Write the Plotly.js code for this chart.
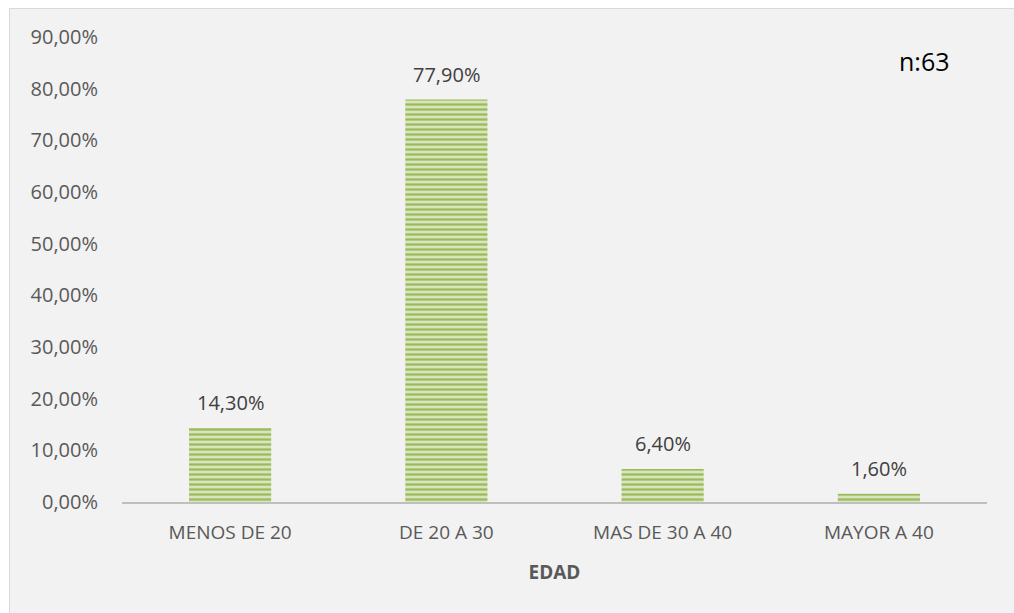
<!DOCTYPE html>
<html>
<head>
<meta charset="utf-8">
<script src="https://cdn.plot.ly/plotly-3.0.1.min.js"></script>
<style>
html,body{margin:0;padding:0;background:#ffffff;overflow:hidden;}
#frame{position:absolute;left:9px;top:8px;width:1004px;height:604px;border-left:1px solid #d9d9d9;border-top:1px solid #d9d9d9;background:#f2f2f2;}
#chart{width:1004px;height:604px;}
</style>
</head>
<body>
<div id="frame"><div id="chart"></div></div>
<script>
const categories = ['MENOS DE 20', 'DE 20 A 30', 'MAS DE 30 A 40', 'MAYOR A 40'];
const values = [0.143, 0.779, 0.064, 0.016];
const tickValues = [0, 0.1, 0.2, 0.3, 0.4, 0.5, 0.6, 0.7, 0.8, 0.9];
const xTitle = 'EDAD';
const noteText = 'n:63';

const fontFam = 'Open Sans, Noto Sans, sans-serif';

const trace = {
  type: 'bar',
  x: categories,
  y: values,
  marker: {
    color: '#d7e4bd',
    line: {width: 0},
    pattern: {shape: '-', fgcolor: '#9bbb59', bgcolor: '#d7e4bd', size: 5, solidity: 0.45}
  },
  hoverinfo: 'none'
};

const labelAnnotations = categories.map((c, i) => ({
  x: c, y: values[i], xref: 'x', yref: 'y',
  text: (values[i] * 100).toFixed(2).replace('.', ',') + '%',
  showarrow: false, xanchor: 'center', yanchor: 'bottom', yshift: 10,
  font: {family: fontFam, size: 20, color: '#404040'}
}));

const layout = {
  width: 1004,
  height: 604,
  paper_bgcolor: '#f2f2f2',
  plot_bgcolor: '#f2f2f2',
  separators: ',.',
  margin: {l: 112, r: 27, t: 28, b: 111},
  bargap: 0.62,
  showlegend: false,
  font: {family: fontFam, color: '#595959', size: 20},
  xaxis: {
    type: 'category',
    showline: true,
    linecolor: '#bfbfbf',
    linewidth: 2,
    ticks: '',
    showgrid: false,
    zeroline: false,
    ticklabelstandoff: 12,
    tickfont: {family: fontFam, size: 19, color: '#595959'},
    title: {text: '<b>' + xTitle + '</b>', font: {family: fontFam, size: 19, color: '#595959'}, standoff: 22}
  },
  yaxis: {
    range: [0, 0.9],
    tickvals: tickValues,
    tickformat: '.2%',
    showgrid: false,
    zeroline: false,
    showline: false,
    ticks: '',
    ticklabelstandoff: 23,
    tickfont: {family: fontFam, size: 20, color: '#595959'}
  },
  annotations: labelAnnotations.concat([{
    text: noteText,
    xref: 'paper', yref: 'paper',
    x: 0.96, y: 0.948,
    xanchor: 'right', yanchor: 'middle',
    showarrow: false,
    font: {family: fontFam, size: 25, color: '#000000'}
  }])
};

Plotly.newPlot('chart', [trace], layout, {displayModeBar: false, staticPlot: true});
</script>
</body>
</html>
